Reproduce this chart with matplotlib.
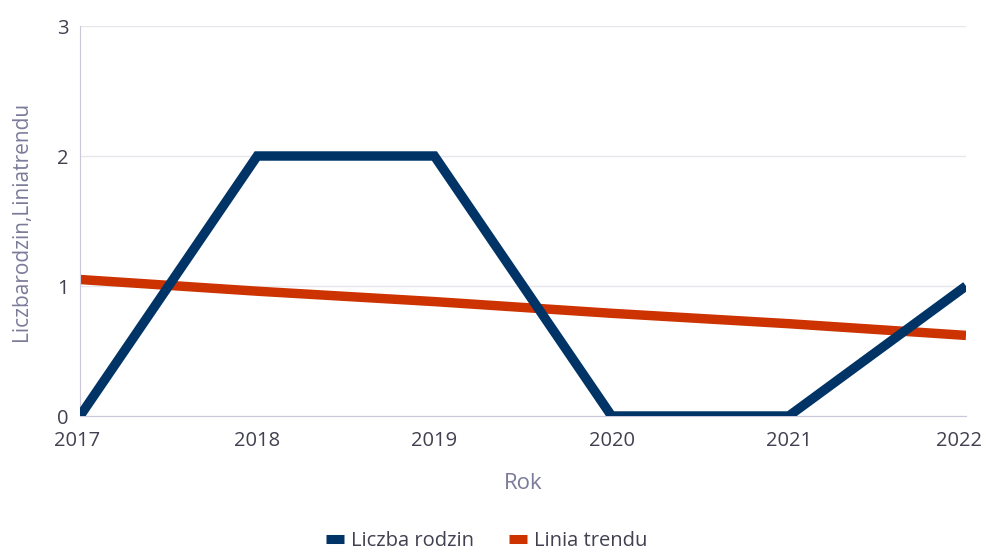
import matplotlib.pyplot as plt
from matplotlib.transforms import ScaledTranslation

plt.rcParams['font.family'] = ['Open Sans', 'DejaVu Sans']

# Data
years = [2017, 2018, 2019, 2020, 2021, 2022]
liczba_rodzin = [0, 2, 2, 0, 0, 1]
linia_trendu = [1.05, 0.96, 0.88, 0.79, 0.71, 0.62]

fig = plt.figure(figsize=(9.87, 5.53), dpi=100)
ax = fig.add_axes([80 / 987, 1 - 416 / 553, (966 - 80) / 987, (416 - 26) / 553])

ax.plot(years, liczba_rodzin, color='#003366', linewidth=6.8,
        solid_joinstyle='miter', solid_capstyle='butt', label='Liczba rodzin', zorder=3)
ax.plot(years, linia_trendu, color='#CC3300', linewidth=6.8,
        solid_capstyle='butt', label='Linia trendu', zorder=2)

ax.set_xlim(2017, 2022)
ax.set_ylim(0, 3)
ax.set_xticks(years)
ax.set_yticks([0, 1, 2, 3])
ax.grid(axis='y', color='#E6E6EC', linewidth=1)
ax.set_axisbelow(True)

for s in ['top', 'right']:
    ax.spines[s].set_visible(False)
ax.spines['left'].set_color('#C8C8D8')
ax.spines['bottom'].set_color('#C8C8D8')
ax.tick_params(length=0, labelsize=14.5, colors='#404050')
ax.tick_params(axis='y', pad=8)
ax.tick_params(axis='x', pad=11)

# keep the last year label inside the figure
ticks = ax.xaxis.get_major_ticks()
ticks[0].label1.set_transform(ticks[0].label1.get_transform()
                              + ScaledTranslation(-0.03, 0, fig.dpi_scale_trans))
ticks[-1].label1.set_transform(ticks[-1].label1.get_transform()
                               + ScaledTranslation(-0.07, 0, fig.dpi_scale_trans))

ax.set_xlabel('Rok', fontsize=16, color='#7A7A9A', va='center')
ax.xaxis.set_label_coords(0.5, -0.172)
ax.set_ylabel('Liczbarodzin,Liniatrendu', fontsize=15, color='#7A7A9A', va='center')
ax.yaxis.set_label_coords(-0.0655, 0.5)

leg = fig.legend(loc='center', bbox_to_anchor=(0.493, 1 - 541 / 553), ncol=2, frameon=False,
                 fontsize=14.5, handlelength=0.9, handletextpad=0.35, columnspacing=1.7,
                 labelcolor='#404050')
for h in leg.legend_handles:
    h.set_linewidth(6.5)
    h.set_solid_capstyle('butt')

fig.savefig('out.png', dpi=100)
